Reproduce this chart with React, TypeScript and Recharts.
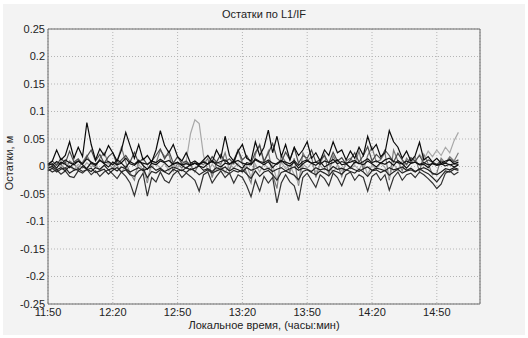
import React from 'react';
import {
  LineChart,
  Line,
  XAxis,
  YAxis,
  CartesianGrid,
  ReferenceLine,
} from 'recharts';

// minutes after 11:50, one sample every 2 min up to 15:00
const SAMPLE_STEP_MIN = 2;

const xTicks = [0, 30, 60, 90, 120, 150, 180];
const xTickLabels = ['11:50', '12:20', '12:50', '13:20', '13:50', '14:20', '14:50'];

const yTicks = [0.25, 0.2, 0.15, 0.1, 0.05, 0, -0.05, -0.1, -0.15, -0.2, -0.25];
const yTickLabels = ['0.25', '0.2', '0.15', '0.1', '0.05', '0', '-0.05', '-0.1', '-0.15', '-0.2', '-0.25'];

// residuals per satellite, in mm
const sat1 = [
  4, 10, 30, 12, 20, 45, 15, 35, 18, 80,
  40, 12, 32, 20, 38, 25, 10, 30, 62, 38,
  15, 40, 12, 20, 8, 30, 65, 38, 25, 40,
  18, 10, 25, 6, 10, 4, 12, 20, 8, 30,
  15, 55, 20, 10, 28, 40, 15, 10, 45, 20,
  35, 66, 25, 55, 18, 40, 12, 35, 20, 30,
  45, 15, 25, 10, 30, 20, 45, 25, 30, 12,
  28, 15, 35, 20, 55, 30, 40, 18, 25, 65,
  45, 35, 15, 28, 10, 20, 44, 12, 18, 8,
  15, 6, 10, 12, 5, 8,
];
const sat2 = [
  -4, -10, -6, -14, -8, -18, -20, -8, -12, -5,
  -15, -8, -18, -10, -6, -14, -22, -10, -18, -30,
  -53, -25, -12, -54, -20, -28, -10, -25, -30, -15,
  -8, -20, -12, -18, -25, -45, -15, -10, -30, -18,
  -8, -20, -12, -30, -15, -20, -35, -55, -25, -45,
  -18, -30, -20, -66, -30, -15, -28, -35, -62, -20,
  -12, -25, -38, -15, -22, -35, -12, -20, -35, -15,
  -10, -25, -15, -20, -45, -18, -12, -25, -15, -43,
  -20, -10, -25, -15, -12, -20, -10, -15, -22, -30,
  -40, -32, -12, -8, -15, -10,
];
const sat3 = [
  2, 5, -3, 8, 4, -2, 6, 10, 3, -4,
  7, 2, 12, 5, -1, 8, 3, 6, -2, 9,
  4, 11, 2, -5, 6, 3, 10, 7, -1, 5,
  8, 2, -3, 4, 6, 1, -2, 5, 9, 3,
  -1, 6, 4, 10, 2, -3, 7, 5, 12, 8,
  3, 9, -2, 6, 11, 4, 1, 8, -3, 5,
  10, 6, 2, 9, -1, 4, 7, 12, 3, 5,
  -2, 8, 6, 3, 10, 5, -1, 7, 4, 9,
  2, 11, 5, -3, 6, 8, 3, 4, -2, 6,
  3, 5, 1, 4, -1, 3,
];
const sat4 = [
  -3, 0, -6, -2, -8, 1, -4, -7, 0, -5,
  -9, -2, -5, 2, -6, -3, -8, -1, -4, -10,
  -6, -2, -8, -4, 0, -7, -3, -9, -5, -1,
  -4, -8, -2, -6, -3, 1, -7, -4, -9, -2,
  -5, -1, -8, -3, -6, -10, -2, -7, -4, 0,
  -6, -3, -9, -5, -2, -8, -4, -1, -7, -3,
  -5, -9, -2, -6, -4, -8, 0, -5, -3, -7,
  -2, -6, -9, -4, -1, -7, -3, -5, -8, -2,
  -6, -4, -1, -7, -3, -9, -5, -2, -6, -12,
  -15, -10, -4, -6, -2, -5,
];
const sat5 = [
  3, 10, 2, 15, 6, 28, 8, 14, 4, 18,
  30, 10, 22, 6, 18, 25, 4, 12, 20, 8,
  26, 6, 15, 3, 10, 20, 32, 14, 28, 6,
  18, 5, 10, 2, 6, 3, 10, 4, 18, 8,
  22, 8, 14, 5, 30, 12, 20, 6, 26, 38,
  10, 24, 42, 15, 8, 26, 12, 34, 6, 20,
  15, 30, 8, 12, 20, 6, 26, 10, 16, 4,
  12, 25, 8, 20, 36, 10, 22, 14, 30, 20,
  8, 24, 12, 4, 16, 10, 20, 6, 12, 8,
  4, 10, 6, 14, 8, 12,
];
const sat6 = [
  3, -5, 6, -2, 8, 0, -6, 4, -3, 7,
  -1, 5, -8, 2, 6, -4, 3, -10, 1, -15,
  -20, 4, -6, -25, 2, 5, -3, 6, -8, 3,
  -2, 8, 10, 60, 85, 78, 20, -10, 4, -6,
  2, -12, 5, -3, 6, -8, 2, -20, 4, -10,
  6, -5, 3, -25, 8, -4, 2, -15, -30, 5,
  -3, 6, -10, 2, -6, 4, -12, 3, -8, 5,
  -4, 2, -6, 8, -15, 3, -5, 6, -2, -20,
  4, -6, 10, 2, 15, 8, 22, 12, 28, 18,
  30, 20, 35, 25, 47, 62,
];
const sat7 = [
  2, -4, 6, 3, -6, 10, 4, -3, 8, 20,
  5, -2, 15, 25, 6, -4, 10, 35, 8, -12,
  -25, 12, 4, -30, 10, 6, 30, 18, 22, -8,
  5, -3, 8, 2, -10, 6, 3, 15, -20, 8,
  4, 25, -6, 12, 30, 5, -12, -30, 22, 40,
  6, 28, -15, -40, 20, 8, -10, 15, -35, 25,
  10, 18, -20, 6, 22, -15, 20, 4, -18, 10,
  15, 5, 28, -6, 20, 35, 8, 12, 25, -25,
  30, 10, -8, 15, 6, 18, -10, 22, 5, -15,
  -12, 15, 6, 18, 10, 25,
];
const sat8 = [
  6, 2, 9, 4, 12, 7, 3, 10, 5, 14,
  8, 4, 11, 6, 9, 3, 12, 7, 15, 5,
  2, 9, 6, 4, 10, 7, 13, 8, 11, 4,
  7, 3, 5, 2, 6, 4, 8, 5, 10, 6,
  9, 12, 5, 8, 11, 6, 4, 3, 14, 9,
  7, 12, 6, 4, 10, 8, 5, 11, 2, 9,
  12, 6, 8, 4, 10, 7, 13, 5, 9, 6,
  8, 11, 5, 9, 14, 7, 10, 6, 12, 15,
  9, 7, 5, 10, 6, 8, 4, 7, 3, 5,
  2, 4, 6, 3, 5, 4,
];
const sat9 = [
  -8, -3, -10, -5, -2, -12, -7, -4, -9, -6,
  -3, -11, -8, -5, -14, -7, -2, -10, -6, -15,
  -18, -8, -4, -20, -9, -12, -6, -10, -14, -5,
  -9, -6, -11, -4, -8, -15, -10, -6, -12, -8,
  -5, -9, -13, -7, -10, -6, -14, -22, -8, -18,
  -10, -7, -15, -25, -11, -8, -12, -16, -24, -9,
  -6, -11, -15, -8, -12, -17, -7, -10, -14, -6,
  -9, -12, -5, -10, -18, -8, -6, -11, -7, -16,
  -10, -5, -12, -8, -6, -10, -4, -9, -13, -20,
  -28, -18, -8, -10, -5, -7,
];

const series = [
  { key: 's7', values: sat7, color: '#7a7a7a' },
  { key: 's6', values: sat6, color: '#a8a8a8' },
  { key: 's5', values: sat5, color: '#4a4a4a' },
  { key: 's2', values: sat2, color: '#333333' },
  { key: 's9', values: sat9, color: '#262626' },
  { key: 's4', values: sat4, color: '#1e1e1e' },
  { key: 's8', values: sat8, color: '#141414' },
  { key: 's3', values: sat3, color: '#111111' },
  { key: 's1', values: sat1, color: '#0a0a0a' },
];

const data = sat1.map((_, i) => {
  const row: Record<string, number> = { t: i * SAMPLE_STEP_MIN };
  series.forEach((s) => {
    row[s.key] = s.values[i] / 1000; // mm -> m
  });
  return row;
});

const font = '"Liberation Sans", Arial, sans-serif';

export default function App() {
  return (
    <div style={{ position: 'absolute', left: 0, top: 0, width: 528, height: 338, background: '#fff', fontFamily: font }}>
      <div style={{ position: 'absolute', left: 3, top: 4, width: 522, height: 331, background: '#f3f3f3' }} />
      <div style={{ position: 'absolute', left: 0, top: 0 }}>
        <LineChart width={528} height={338} data={data} margin={{ top: 29, right: 48, bottom: 14, left: 8 }}>
          <CartesianGrid stroke="#b5b5b5" strokeDasharray="1 2" />
          <XAxis
            dataKey="t"
            type="number"
            domain={[0, 200]}
            ticks={xTicks}
            tickFormatter={(v: number) => xTickLabels[xTicks.indexOf(v)]}
            height={20}
            tickSize={0}
            tickMargin={4}
            stroke="#6a6a6a"
            tick={{ fill: '#222', fontSize: 11, fontFamily: font }}
          />
          <YAxis
            type="number"
            domain={[-0.25, 0.25]}
            ticks={yTicks}
            tickFormatter={(v: number) => yTickLabels[yTicks.indexOf(v)]}
            width={40}
            tickSize={0}
            tickMargin={3}
            stroke="#6a6a6a"
            tick={{ fill: '#222', fontSize: 11, fontFamily: font }}
            allowDataOverflow
          />
          <ReferenceLine y={0.25} stroke="#6a6a6a" />
          <ReferenceLine x={200} stroke="#6a6a6a" />
          {series.map((s) => (
            <Line
              key={s.key}
              dataKey={s.key}
              stroke={s.color}
              strokeWidth={1.2}
              dot={false}
              type="linear"
              isAnimationActive={false}
            />
          ))}
        </LineChart>
      </div>
      <div style={{ position: 'absolute', left: 0, top: 8, width: 528, textAlign: 'center', fontSize: 11, color: '#222' }}>
        Остатки по L1/IF
      </div>
      <div style={{ position: 'absolute', left: 0, top: 319, width: 528, textAlign: 'center', fontSize: 11, color: '#222' }}>
        Локальное время, (часы:мин)
      </div>
      <div
        style={{
          position: 'absolute',
          left: 9,
          top: 163,
          fontSize: 11,
          color: '#222',
          whiteSpace: 'nowrap',
          transform: 'translate(-50%, -50%) rotate(-90deg)',
        }}
      >
        Остатки, м
      </div>
    </div>
  );
}
